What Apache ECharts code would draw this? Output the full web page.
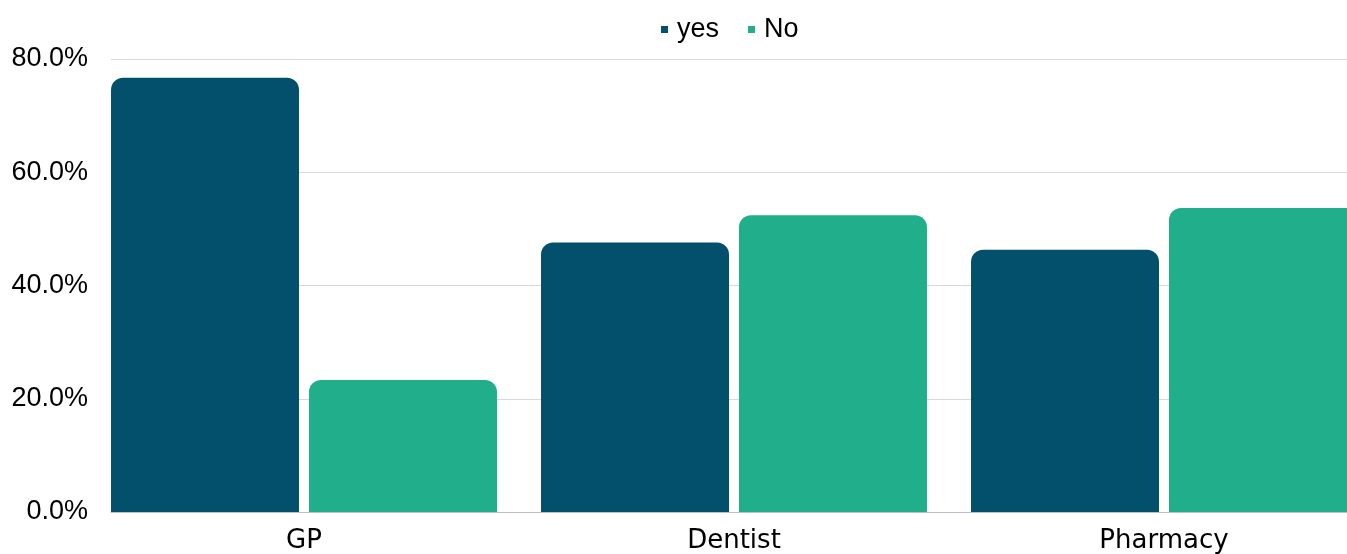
<!DOCTYPE html>
<html>
<head>
<meta charset="utf-8">
<script src="https://cdn.jsdelivr.net/npm/echarts@6/dist/echarts.min.js"></script>
<style>
  html, body { margin: 0; padding: 0; background: #fff; }
  #chart { width: 1347px; height: 554px; }
</style>
</head>
<body>
<div id="chart"></div>
<script>
// Share of respondents per service
const categories = ['GP', 'Dentist', 'Pharmacy'];
const yesValues = [76.7, 47.6, 46.3];
const noValues = [23.3, 52.4, 53.7];
const yTicks = { min: 0, max: 80, interval: 20 };

const DARK = '#02506b';
const GREEN = '#20af8a';
const labelFont = '"Liberation Sans", Arial, sans-serif';
const catFont = '"DejaVu Sans", sans-serif';

const chart = echarts.init(document.getElementById('chart'), null, { renderer: 'canvas' });

chart.setOption({
  animation: false,
  backgroundColor: '#ffffff',
  legend: {
    data: ['yes', 'No'],
    left: 661,
    top: 16,
    padding: 0,
    itemWidth: 7,
    itemHeight: 7,
    itemGap: 29,
    icon: 'rect',
    textStyle: { fontFamily: labelFont, fontSize: 27, color: '#000', padding: [0, 0, 0, 4] }
  },
  grid: [
    // bars
    { left: 89, top: 59, width: 1290, height: 453, containLabel: false, outerBoundsMode: 'none' },
    // gridlines, value labels and baseline
    { left: 111, top: 59, width: 1236, height: 453, containLabel: false, outerBoundsMode: 'none' }
  ],
  xAxis: [
    {
      type: 'category',
      gridIndex: 0,
      data: categories,
      axisLine: { show: false },
      axisTick: { show: false },
      axisLabel: { fontFamily: catFont, fontSize: 26, color: '#000', margin: 16 }
    },
    {
      type: 'value',
      gridIndex: 1,
      min: 0, max: 1,
      axisLine: { show: true, onZero: false, lineStyle: { color: '#bfbfbf', width: 1 } },
      axisTick: { show: false },
      axisLabel: { show: false },
      splitLine: { show: false }
    }
  ],
  yAxis: [
    {
      type: 'value',
      gridIndex: 0,
      min: yTicks.min, max: yTicks.max, interval: yTicks.interval,
      axisLabel: { show: false },
      axisLine: { show: false },
      axisTick: { show: false },
      splitLine: { show: false }
    },
    {
      type: 'value',
      gridIndex: 1,
      min: yTicks.min, max: yTicks.max, interval: yTicks.interval,
      axisLine: { show: false },
      axisTick: { show: false },
      axisLabel: {
        fontFamily: labelFont, fontSize: 27, color: '#000', margin: 23,
        formatter: v => v.toFixed(1) + '%'
      },
      splitLine: { lineStyle: { color: '#d9d9d9', width: 1 } }
    }
  ],
  series: [
    {
      name: 'yes',
      type: 'bar',
      xAxisIndex: 0, yAxisIndex: 0,
      data: yesValues,
      barWidth: 188,
      barGap: '5.3%',
      itemStyle: { color: DARK, borderRadius: [12, 12, 0, 0] }
    },
    {
      name: 'No',
      type: 'bar',
      xAxisIndex: 0, yAxisIndex: 0,
      data: noValues,
      barWidth: 188,
      barGap: '5.3%',
      itemStyle: { color: GREEN, borderRadius: [12, 12, 0, 0] }
    }
  ]
});
</script>
</body>
</html>
